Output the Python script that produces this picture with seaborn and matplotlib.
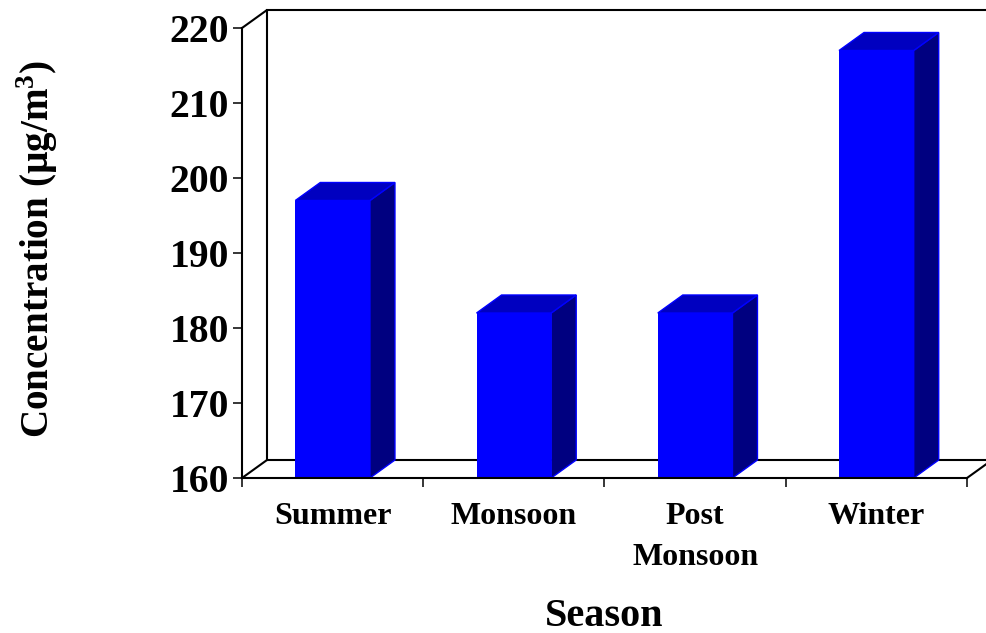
import matplotlib
matplotlib.use("Agg")
import matplotlib.pyplot as plt
from matplotlib.patches import Polygon
import pandas as pd
import seaborn as sns

seasons = ["Summer", "Monsoon", "Post\nMonsoon", "Winter"]
concentration = [197, 182, 182, 217]
y_ticks = [160, 170, 180, 190, 200, 210, 220]

sns.set_theme(style="white")
plt.rcParams["font.family"] = ["Liberation Serif", "DejaVu Serif"]
plt.rcParams["mathtext.fontset"] = "custom"
plt.rcParams["mathtext.bf"] = "Liberation Serif:bold"
plt.rcParams["mathtext.rm"] = "Liberation Serif:bold"

W, H = 987, 633
fig = plt.figure(figsize=(W / 100, H / 100), dpi=100, facecolor="white")
ax = fig.add_axes([242 / W, (H - 478) / H, 725 / W, 450 / H])
ax.set_facecolor("none")

df = pd.DataFrame({"Season": seasons, "Concentration": concentration})
sns.barplot(data=df, x="Season", y="Concentration", color="#0000FF", saturation=1,
            width=0.412, ax=ax, linewidth=0, zorder=3)
ax.set_xlim(-0.5, 3.5)
ax.set_ylim(160, 220)

# depth of the 3-D look, in data units
dx, dy = 25 / 181.25, 18 / 7.5
x_lo, x_hi = ax.get_xlim()
y_lo, y_hi = ax.get_ylim()

for p in ax.patches:
    x0, x1 = p.get_x(), p.get_x() + p.get_width()
    top = p.get_height()
    ax.add_patch(Polygon([(x1, y_lo), (x1 + dx, y_lo + dy), (x1 + dx, top + dy), (x1, top)],
                         closed=True, fc="#000080", ec="#0000FF", lw=1.0, clip_on=False, zorder=2))
    ax.add_patch(Polygon([(x0, top), (x0 + dx, top + dy), (x1 + dx, top + dy), (x1, top)],
                         closed=True, fc="#0000C0", ec="#0000FF", lw=1.0, clip_on=False, zorder=2))

# back wall and floor
wall = dict(color="black", lw=1.5, clip_on=False, zorder=1, solid_capstyle="projecting")
ax.plot([x_lo, x_lo + dx, x_lo + dx], [y_hi, y_hi + dy, y_lo + dy], **wall)
ax.plot([x_lo + dx, x_hi + dx], [y_hi + dy, y_hi + dy], **wall)
ax.plot([x_lo, x_lo + dx, x_hi + dx], [y_lo, y_lo + dy, y_lo + dy], **wall)
ax.plot([x_hi, x_hi + dx], [y_lo, y_lo + dy], **wall)

sns.despine(ax=ax, top=True, right=True)
for s in ("left", "bottom"):
    ax.spines[s].set_linewidth(1.5)
    ax.spines[s].set_color("black")
    ax.spines[s].set_zorder(4)

ax.set_yticks(y_ticks)
ax.set_yticklabels([str(v) for v in y_ticks], fontsize=28.5, fontweight="bold", color="black")
ax.set_xticks(range(len(seasons)))
ax.set_xticklabels(seasons, fontsize=23, fontweight="bold", color="black", linespacing=1.56)
ax.set_xticks([i - 0.5 for i in range(len(seasons) + 1)], minor=True)
ax.tick_params(axis="x", which="major", length=0, pad=17)
ax.tick_params(axis="x", which="minor", length=6.5, width=1.1, color="black", bottom=True)
ax.tick_params(axis="y", which="major", length=6.5, width=1.1, color="black", left=True, pad=3)

ax.set_xlabel("")
ax.set_ylabel("")
fig.text(604 / W, 1 - 616 / H, "Season", fontsize=29, fontweight="bold",
         ha="center", va="center", color="black")
fig.text(37 / W, 1 - 249 / H, "Concentration (µg/m$^{\\mathbf{3}}$)", fontsize=28.2, fontweight="bold",
         rotation=90, ha="center", va="center", color="black")

fig.savefig("out.png", dpi=100)
